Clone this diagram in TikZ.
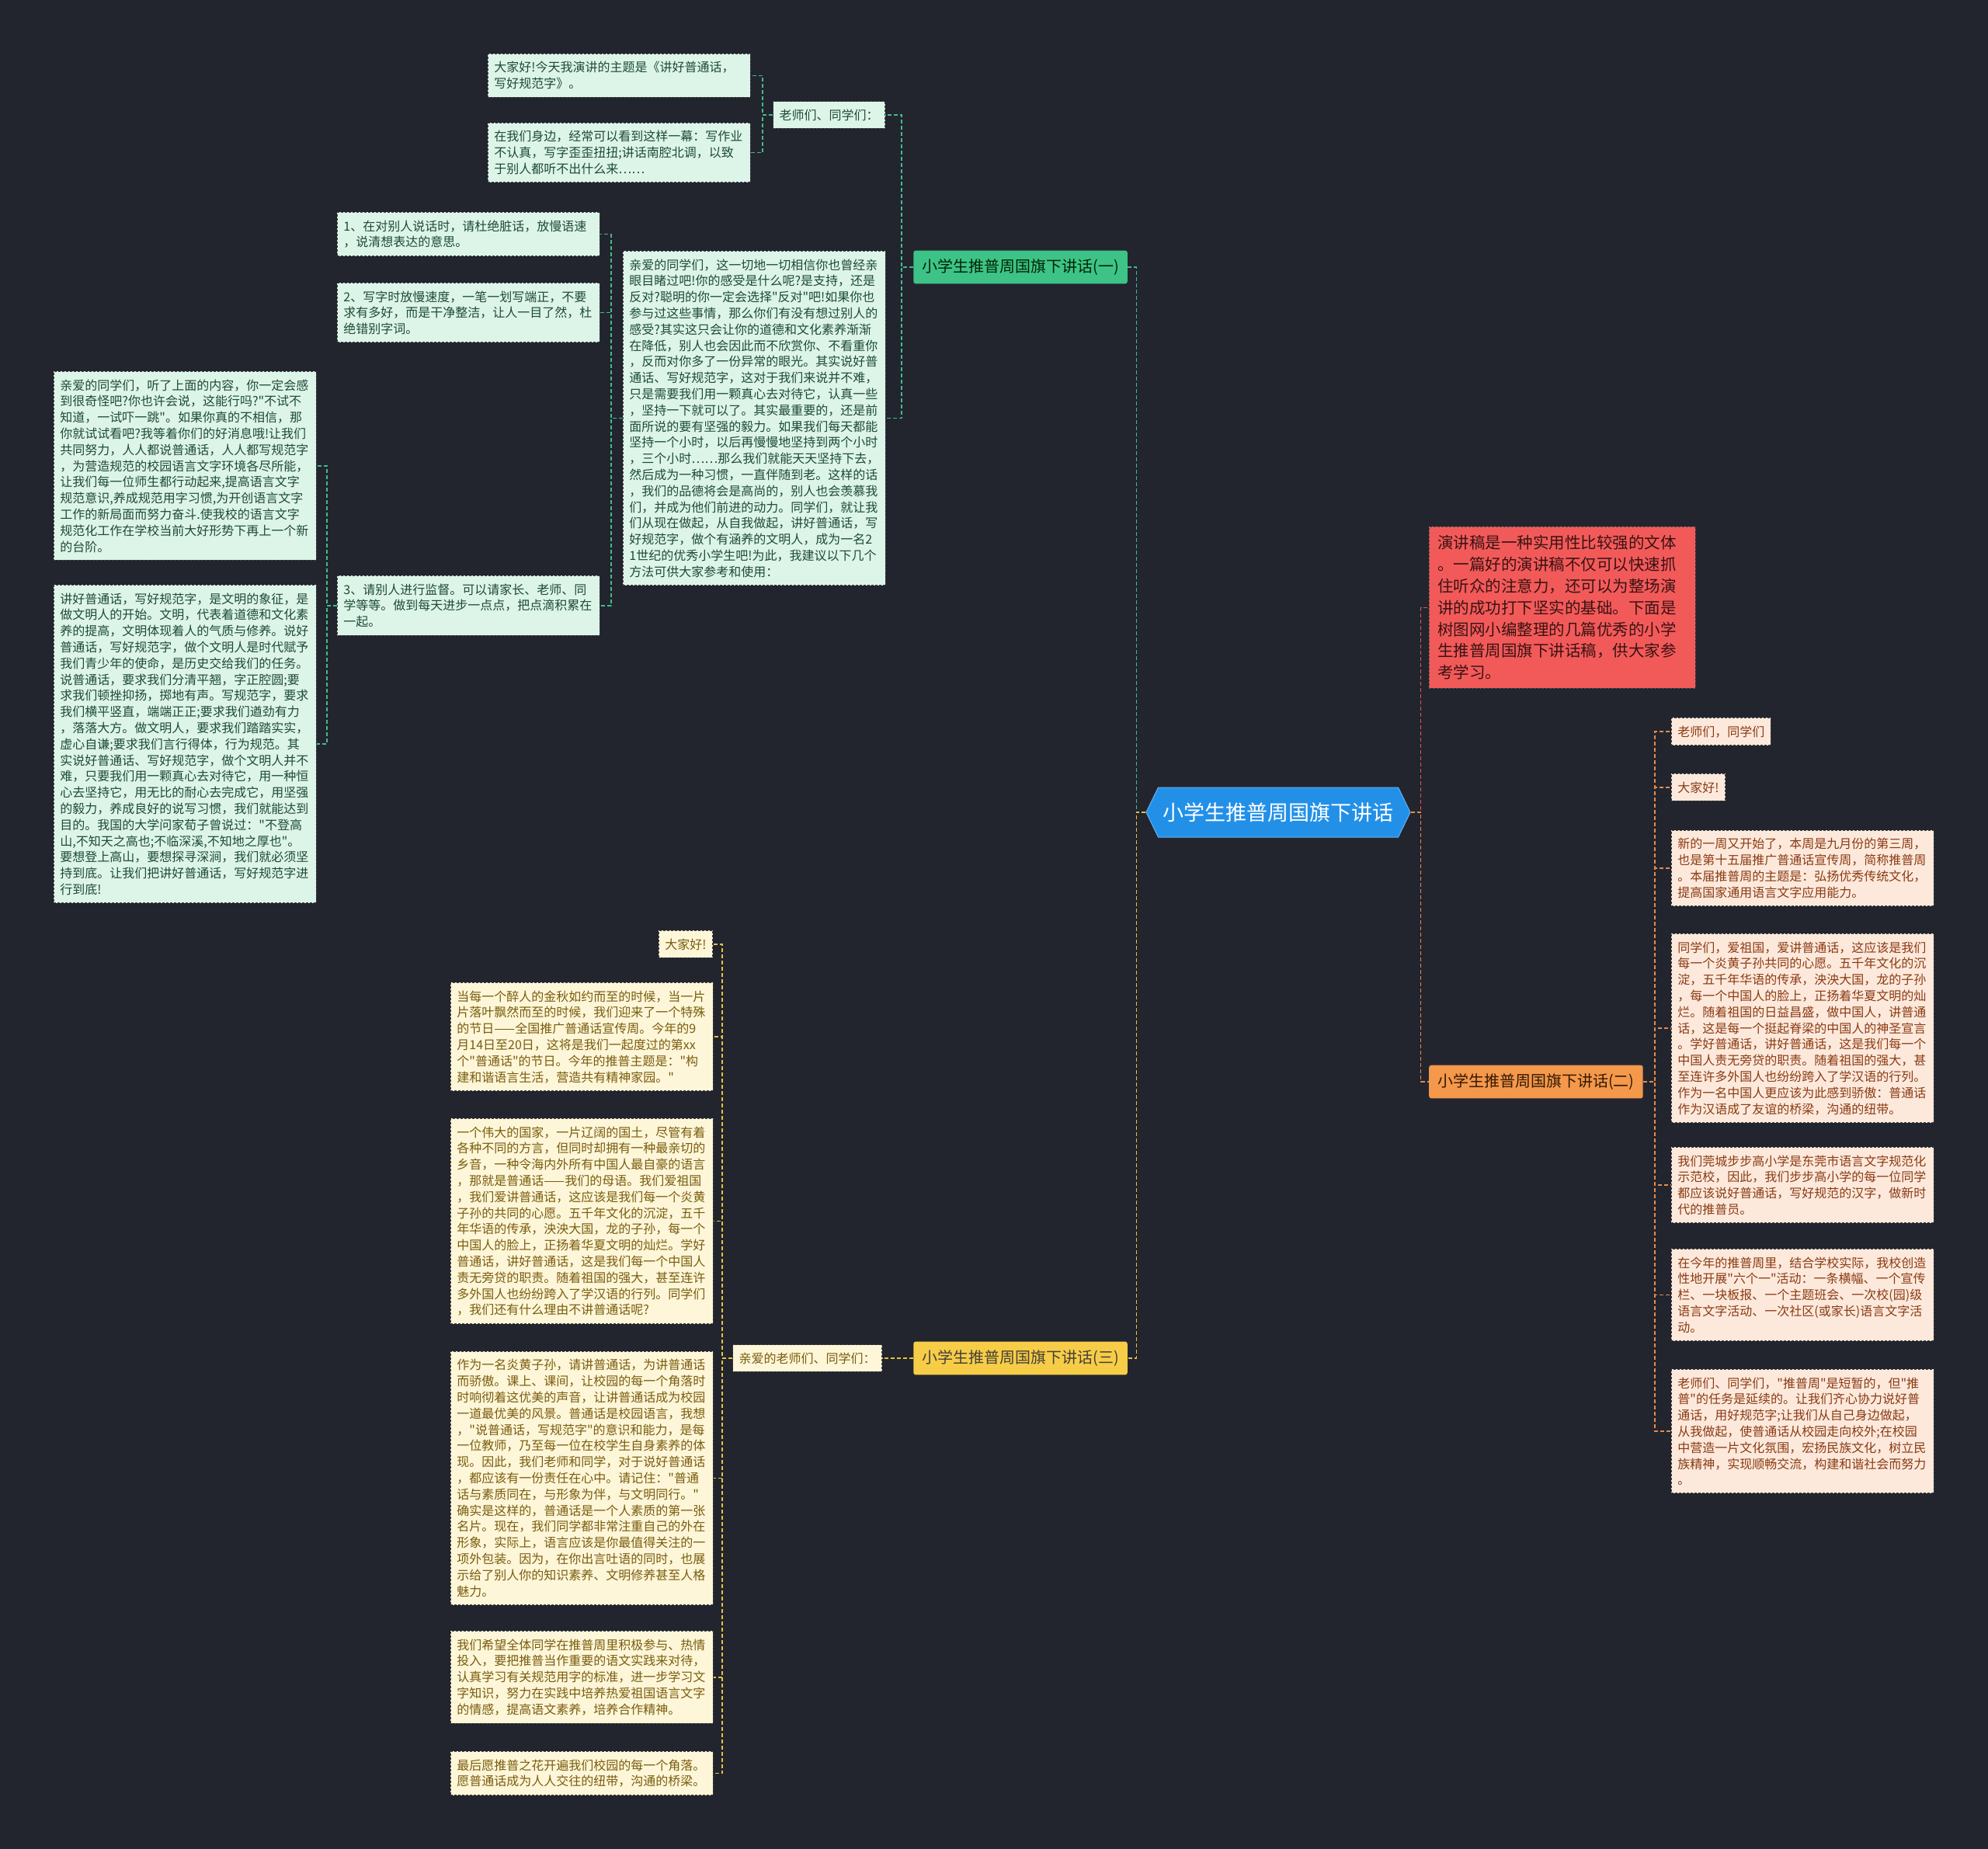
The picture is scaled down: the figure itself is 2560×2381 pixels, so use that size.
\documentclass[tikz,border=0pt]{standalone}
\usepackage{fontspec}
\setmainfont{Noto Sans CJK SC}[Ligatures=TeXOff]
\usetikzlibrary{shapes.symbols}
\definecolor{bg}{HTML}{22252E}
\definecolor{gfill}{HTML}{DDF5E8}
\definecolor{gtext}{HTML}{1D4A36}
\definecolor{ofill}{HTML}{FDE9DC}
\definecolor{otext}{HTML}{8A3A12}
\definecolor{yfill}{HTML}{FDF6D8}
\definecolor{ytext}{HTML}{7A5C0E}
\definecolor{rfill}{HTML}{F25A5A}
\definecolor{rtext}{HTML}{3A1212}
\definecolor{cblue}{HTML}{2390E8}
\definecolor{bgreen}{HTML}{3DC388}
\definecolor{borange}{HTML}{F4984C}
\definecolor{byellow}{HTML}{F7CD48}
\definecolor{lgreen}{HTML}{45B98A}
\definecolor{lorange}{HTML}{E8894A}
\definecolor{lyellow}{HTML}{E6C143}
\definecolor{lred}{HTML}{E05555}
\tikzset{
  boxbase/.style={font=\fontsize{16}{20.8}\selectfont, align=left, inner xsep=8pt, inner ysep=10pt,
    draw=black!75, dash pattern=on 3pt off 2pt, line width=0.9pt},
  gbox/.style={boxbase, fill=gfill, text=gtext, text width=322pt, anchor=north west},
  glab/.style={boxbase, fill=gfill, text=gtext},
  obox/.style={boxbase, fill=ofill, text=otext, text width=322pt, anchor=north west},
  olab/.style={boxbase, fill=ofill, text=otext, anchor=north west},
  ybox/.style={boxbase, fill=yfill, text=ytext, text width=322pt, anchor=north west},
  ylab/.style={boxbase, fill=yfill, text=ytext},
  rbox/.style={font=\fontsize{20.5}{27.8}\selectfont, align=left, inner xsep=11pt, inner ysep=11pt,
    draw=black!70, dash pattern=on 3pt off 2pt, line width=0.9pt, fill=rfill, text=rtext,
    text width=321pt, anchor=north west},
  branch/.style={font=\fontsize{20}{24}\selectfont, inner xsep=11pt, inner ysep=11pt, rounded corners=3pt},
  conn/.style={dash pattern=on 5pt off 3pt, line width=1.6pt},
  cg/.style={conn, draw=lgreen},
  co/.style={conn, draw=lorange},
  cy/.style={conn, draw=lyellow},
  cr/.style={conn, draw=lred}
}
\begin{document}
\begin{tikzpicture}[x=1pt,y=-1pt]
\fill[bg] (0,0) rectangle (2560,2381);
\useasboundingbox (0,0) rectangle (2560,2381);

% central
\node[signal, signal to=west and east, signal pointer angle=128, fill=cblue, draw=cblue!70!white, line width=1pt,
  text=white, font=\fontsize{27}{30}\selectfont, minimum width=336pt, minimum height=64pt, inner xsep=6pt]
  (c) at (1646,1046) {小学生推普周国旗下讲话};

% branches
\node[branch, fill=bgreen, text=black!85!green, anchor=east] (b1) at (1452,344) {小学生推普周国旗下讲话(一)};
\node[branch, fill=borange, text=black!80!orange, anchor=west] (b2) at (1840,1393) {小学生推普周国旗下讲话(二)};
\node[branch, fill=byellow, text=black!85!yellow, anchor=east] (b3) at (1452,1749) {小学生推普周国旗下讲话(三)};

% red intro
\node[rbox] (red) at (1840,678) {演讲稿是一种实用性比较强的文体\\。一篇好的演讲稿不仅可以快速抓\\住听众的注意力，还可以为整场演\\讲的成功打下坚实的基础。下面是\\树图网小编整理的几篇优秀的小学\\生推普周国旗下讲话稿，供大家参\\考学习。};

% ---- branch 1 ----
\node[glab, anchor=east] (t1) at (1140,148) {老师们、同学们：};
\node[gbox] (a1) at (628,69) {大家好!今天我演讲的主题是《讲好普通话，\\写好规范字》。};
\node[gbox] (a2) at (628,158) {在我们身边，经常可以看到这样一幕：写作业\\不认真，写字歪歪扭扭;讲话南腔北调，以致\\于别人都听不出什么来……};
\node[gbox] (bb) at (802,323) {亲爱的同学们，这一切地一切相信你也曾经亲\\眼目睹过吧!你的感受是什么呢?是支持，还是\\反对?聪明的你一定会选择"反对"吧!如果你也\\参与过这些事情，那么你们有没有想过别人的\\感受?其实这只会让你的道德和文化素养渐渐\\在降低，别人也会因此而不欣赏你、不看重你\\，反而对你多了一份异常的眼光。其实说好普\\通话、写好规范字，这对于我们来说并不难，\\只是需要我们用一颗真心去对待它，认真一些\\，坚持一下就可以了。其实最重要的，还是前\\面所说的要有坚强的毅力。如果我们每天都能\\坚持一个小时，以后再慢慢地坚持到两个小时\\，三个小时……那么我们就能天天坚持下去，\\然后成为一种习惯，一直伴随到老。这样的话\\，我们的品德将会是高尚的，别人也会羡慕我\\们，并成为他们前进的动力。同学们，就让我\\们从现在做起，从自我做起，讲好普通话，写\\好规范字，做个有涵养的文明人，成为一名2\\1世纪的优秀小学生吧!为此，我建议以下几个\\方法可供大家参考和使用：};
\node[gbox] (p1) at (434,273) {1、在对别人说话时，请杜绝脏话，放慢语速\\，说清想表达的意思。};
\node[gbox] (p2) at (434,364) {2、写字时放慢速度，一笔一划写端正，不要\\求有多好，而是干净整洁，让人一目了然，杜\\绝错别字词。};
\node[gbox] (p3) at (434,741) {3、请别人进行监督。可以请家长、老师、同\\学等等。做到每天进步一点点，把点滴积累在\\一起。};
\node[gbox] (l1) at (69,478) {亲爱的同学们，听了上面的内容，你一定会感\\到很奇怪吧?你也许会说，这能行吗?"不试不\\知道，一试吓一跳"。如果你真的不相信，那\\你就试试看吧?我等着你们的好消息哦!让我们\\共同努力，人人都说普通话，人人都写规范字\\，为营造规范的校园语言文字环境各尽所能，\\让我们每一位师生都行动起来,提高语言文字\\规范意识,养成规范用字习惯,为开创语言文字\\工作的新局面而努力奋斗.使我校的语言文字\\规范化工作在学校当前大好形势下再上一个新\\的台阶。};
\node[gbox] (l2) at (69,753) {讲好普通话，写好规范字，是文明的象征，是\\做文明人的开始。文明，代表着道德和文化素\\养的提高，文明体现着人的气质与修养。说好\\普通话，写好规范字，做个文明人是时代赋予\\我们青少年的使命，是历史交给我们的任务。\\说普通话，要求我们分清平翘，字正腔圆;要\\求我们顿挫抑扬，掷地有声。写规范字，要求\\我们横平竖直，端端正正;要求我们遒劲有力\\，落落大方。做文明人，要求我们踏踏实实，\\虚心自谦;要求我们言行得体，行为规范。其\\实说好普通话、写好规范字，做个文明人并不\\难，只要我们用一颗真心去对待它，用一种恒\\心去坚持它，用无比的耐心去完成它，用坚强\\的毅力，养成良好的说写习惯，我们就能达到\\目的。我国的大学问家荀子曾说过："不登高\\山,不知天之高也;不临深溪,不知地之厚也"。\\要想登上高山，要想探寻深涧，我们就必须坚\\持到底。让我们把讲好普通话，写好规范字进\\行到底!};

% ---- branch 2 ----
\node[olab] (r1) at (2152,924) {老师们，同学们};
\node[olab] (r2) at (2152,996) {大家好!};
\node[obox] (r3) at (2152,1069) {新的一周又开始了，本周是九月份的第三周，\\也是第十五届推广普通话宣传周，简称推普周\\。本届推普周的主题是：弘扬优秀传统文化，\\提高国家通用语言文字应用能力。};
\node[obox] (r4) at (2152,1202) {同学们，爱祖国，爱讲普通话，这应该是我们\\每一个炎黄子孙共同的心愿。五千年文化的沉\\淀，五千年华语的传承，泱泱大国，龙的子孙\\，每一个中国人的脸上，正扬着华夏文明的灿\\烂。随着祖国的日益昌盛，做中国人，讲普通\\话，这是每一个挺起脊梁的中国人的神圣宣言\\。学好普通话，讲好普通话，这是我们每一个\\中国人责无旁贷的职责。随着祖国的强大，甚\\至连许多外国人也纷纷跨入了学汉语的行列。\\作为一名中国人更应该为此感到骄傲：普通话\\作为汉语成了友谊的桥梁，沟通的纽带。};
\node[obox] (r5) at (2152,1477) {我们莞城步步高小学是东莞市语言文字规范化\\示范校，因此，我们步步高小学的每一位同学\\都应该说好普通话，写好规范的汉字，做新时\\代的推普员。};
\node[obox] (r6) at (2152,1608) {在今年的推普周里，结合学校实际，我校创造\\性地开展"六个一"活动：一条横幅、一个宣传\\栏、一块板报、一个主题班会、一次校(园)级\\语言文字活动、一次社区(或家长)语言文字活\\动。};
\node[obox] (r7) at (2152,1763) {老师们、同学们，"推普周"是短暂的，但"推\\普"的任务是延续的。让我们齐心协力说好普\\通话，用好规范字;让我们从自己身边做起，\\从我做起，使普通话从校园走向校外;在校园\\中营造一片文化氛围，宏扬民族文化，树立民\\族精神，实现顺畅交流，构建和谐社会而努力\\。};

% ---- branch 3 ----
\node[ylab, anchor=east] (t3) at (1136,1749) {亲爱的老师们、同学们：};
\node[ylab, anchor=north east] (y1) at (918,1198) {大家好!};
\node[ybox] (y2) at (580,1265) {当每一个醉人的金秋如约而至的时候，当一片\\片落叶飘然而至的时候，我们迎来了一个特殊\\的节日——全国推广普通话宣传周。今年的9\\月14日至20日，这将是我们一起度过的第xx\\个"普通话"的节日。今年的推普主题是："构\\建和谐语言生活，营造共有精神家园。"};
\node[ybox] (y3) at (580,1440) {一个伟大的国家，一片辽阔的国土，尽管有着\\各种不同的方言，但同时却拥有一种最亲切的\\乡音，一种令海内外所有中国人最自豪的语言\\，那就是普通话——我们的母语。我们爱祖国\\，我们爱讲普通话，这应该是我们每一个炎黄\\子孙的共同的心愿。五千年文化的沉淀，五千\\年华语的传承，泱泱大国，龙的子孙，每一个\\中国人的脸上，正扬着华夏文明的灿烂。学好\\普通话，讲好普通话，这是我们每一个中国人\\责无旁贷的职责。随着祖国的强大，甚至连许\\多外国人也纷纷跨入了学汉语的行列。同学们\\，我们还有什么理由不讲普通话呢?};
\node[ybox] (y4) at (580,1740) {作为一名炎黄子孙，请讲普通话，为讲普通话\\而骄傲。课上、课间，让校园的每一个角落时\\时响彻着这优美的声音，让讲普通话成为校园\\一道最优美的风景。普通话是校园语言，我想\\，"说普通话，写规范字"的意识和能力，是每\\一位教师，乃至每一位在校学生自身素养的体\\现。因此，我们老师和同学，对于说好普通话\\，都应该有一份责任在心中。请记住："普通\\话与素质同在，与形象为伴，与文明同行。"\\确实是这样的，普通话是一个人素质的第一张\\名片。现在，我们同学都非常注重自己的外在\\形象，实际上，语言应该是你最值得关注的一\\项外包装。因为，在你出言吐语的同时，也展\\示给了别人你的知识素养、文明修养甚至人格\\魅力。};
\node[ybox] (y5) at (580,2100) {我们希望全体同学在推普周里积极参与、热情\\投入，要把推普当作重要的语文实践来对待，\\认真学习有关规范用字的标准，进一步学习文\\字知识，努力在实践中培养热爱祖国语言文字\\的情感，提高语文素养，培养合作精神。};
\node[ybox] (y6) at (580,2255) {最后愿推普之花开遍我们校园的每一个角落。\\愿普通话成为人人交往的纽带，沟通的桥梁。};

% ---- connectors ----
\draw[cg] (c.west) -- ++(-12,0) |- (b1.east);
\draw[cy] (c.west) -- ++(-12,0) |- (b3.east);
\draw[cr] (c.east) -- ++(13,0) |- (red.west);
\draw[co] (c.east) -- ++(13,0) |- (b2.west);

\draw[cg] (b1.west) -- ++(-15,0) |- (t1.east);
\draw[cg] (b1.west) -- ++(-15,0) |- (bb.east);
\draw[cg] (t1.west) -- ++(-13,0) |- (a1.east);
\draw[cg] (t1.west) -- ++(-13,0) |- (a2.east);
\draw[cg] (bb.west) -- ++(-15,0) |- (p1.east);
\draw[cg] (bb.west) -- ++(-15,0) |- (p2.east);
\draw[cg] (bb.west) -- ++(-15,0) |- (p3.east);
\draw[cg] (p3.west) -- ++(-13,0) |- (l1.east);
\draw[cg] (p3.west) -- ++(-13,0) |- (l2.east);

\foreach \n in {r1,r2,r3,r4,r5,r6,r7}
  \draw[co] (b2.east) -- ++(15,0) |- (\n.west);

\draw[cy] (b3.west) -- (t3.east);
\foreach \n in {y1,y2,y3,y4,y5,y6}
  \draw[cy] (t3.west) -- ++(-13,0) |- (\n.east);
\end{tikzpicture}
\end{document}
